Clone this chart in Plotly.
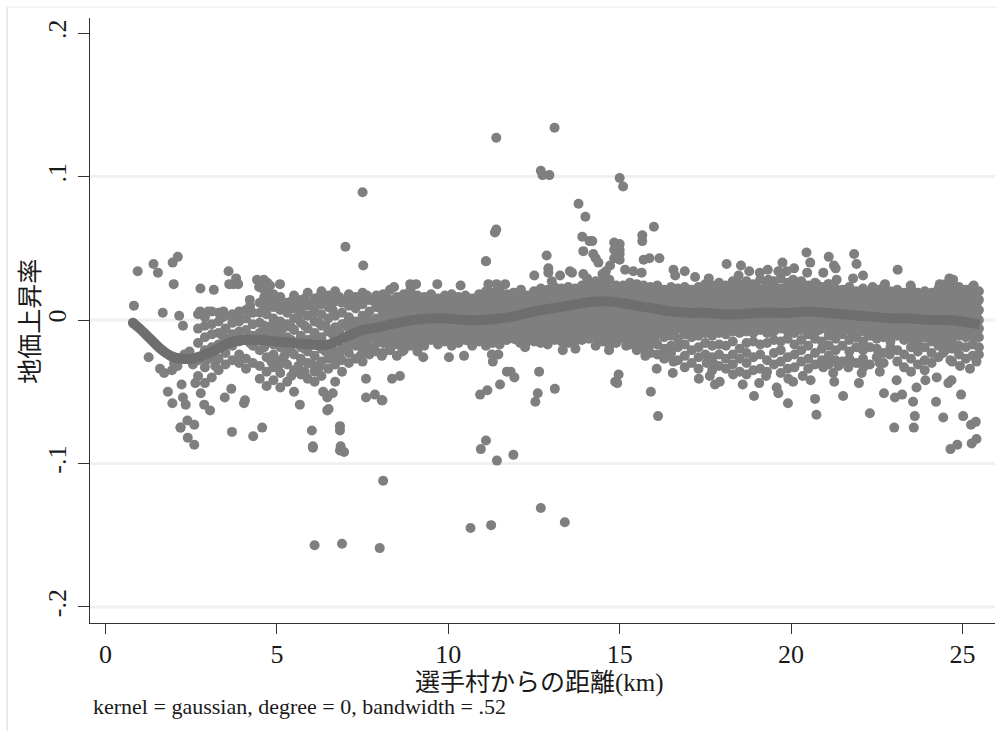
import plotly.graph_objects as go

# Smoothed curve
curve_x = [0.8,1.0,1.3,1.6,1.9,2.2,2.5,2.8,3.2,3.6,4.0,4.5,5.0,5.5,6.0,6.5,7.0,7.5,8.0,8.5,9.0,9.5,10.0,10.5,11.0,11.5,12.0,12.5,13.0,13.5,14.0,14.5,15.0,15.5,16.0,16.5,17.0,17.5,18.0,18.5,19.0,19.5,20.0,20.5,21.0,21.5,22.0,22.5,23.0,23.5,24.0,24.5,25.0,25.5]
curve_y = [-.002,-.006,-.013,-.020,-.025,-.027,-.027,-.025,-.021,-.016,-.014,-.014,-.015,-.016,-.017,-.017,-.012,-.007,-.005,-.002,0,.001,.001,0,0,.001,.003,.006,.008,.010,.012,.013,.012,.010,.008,.006,.005,.005,.004,.004,.005,.005,.005,.006,.005,.004,.003,.002,.001,.001,0,0,-.001,-.003]

# Columns of the crowded area: distance -> rates
early_cols = {
 2.7:[.004,-.006,-.016,-.028,-.039], 2.9:[.002,-.004,-.012,-.021,-.033,-.044], 3.1:[.006,-.003,-.010,-.019,-.026,-.040],
 3.3:[.005,-.001,-.009,-.017,-.027,-.035], 3.5:[.003,-.006,-.013,-.023,-.031], 3.7:[.004,-.002,-.010,-.018,-.028],
 3.9:[.006,-.001,-.008,-.015,-.024,-.030], 4.1:[.007,.001,-.007,-.013,-.027,-.034], 4.3:[.005,-.003,-.011,-.018,-.030],
 4.5:[.012,.005,-.002,-.009,-.021,-.032,-.041], 4.7:[.020,.014,.004,-.006,-.012,-.026,-.036,-.046], 4.9:[.018,.009,.001,-.008,-.017,-.024,-.033,-.042],
 5.1:[.016,.007,-.001,-.009,-.019,-.028,-.037,-.047], 5.3:[.012,.005,-.003,-.012,-.021,-.031,-.043], 5.5:[.017,.008,.001,-.007,-.016,-.024,-.035,-.050],
 5.7:[.014,.006,-.002,-.011,-.019,-.027,-.038], 5.9:[.019,.010,.003,-.006,-.014,-.022,-.030,-.041], 6.1:[.015,.008,-.001,-.009,-.017,-.025,-.036,-.043],
 6.3:[.020,.011,.004,-.004,-.012,-.020,-.029,-.039], 6.5:[.017,.009,.001,-.008,-.018,-.027,-.034], 6.7:[.020,.013,.003,-.005,-.014,-.022,-.031,-.043],
 6.9:[.012,.005,-.003,-.012,-.020,-.028,-.036], 7.1:[.018,.010,.002,-.006,-.015,-.023,-.030], 7.3:[.016,.008,-.001,-.009,-.018,-.027],
 7.5:[.019,.011,.003,-.005,-.013,-.021,-.029], 7.7:[.014,.006,-.002,-.010,-.019,-.024], 7.9:[.017,.009,.001,-.007,-.016,-.022],
}
mid_cols = {
 8.1:[.018,.012,.005,-.002,-.009,-.016,-.023], 8.3:[.021,.014,.007,.001,-.006,-.013,-.019], 8.5:[.016,.010,.003,-.004,-.011,-.017,-.025],
 8.7:[.018,.011,.005,-.002,-.008,-.015,-.021], 8.9:[.021,.015,.008,.001,-.005,-.012,-.018], 9.1:[.017,.011,.004,-.003,-.010,-.016,-.022],
 9.3:[.016,.009,.003,-.004,-.011,-.018], 9.5:[.018,.012,.006,-.001,-.007,-.014], 9.7:[.015,.009,.002,-.005,-.012,-.017],
 9.9:[.017,.011,.004,-.002,-.009,-.015], 10.1:[.018,.013,.006,.000,-.007,-.013,-.018], 10.3:[.016,.010,.003,-.004,-.010,-.016],
 10.5:[.017,.011,.005,-.002,-.008,-.014], 10.7:[.015,.008,.002,-.005,-.011,-.018], 10.9:[.018,.012,.006,-.001,-.008,-.015],
 11.1:[.020,.014,.007,.001,-.006,-.012,-.018], 11.3:[.019,.012,.005,-.002,-.009,-.016], 11.5:[.020,.014,.008,.001,-.005,-.012,-.017],
 11.7:[.018,.012,.006,-.001,-.008,-.014], 11.9:[.019,.013,.006,.000,-.007,-.013], 12.1:[.020,.015,.008,.002,-.005,-.011,-.016],
 12.3:[.017,.011,.005,-.002,-.009,-.015], 12.5:[.020,.014,.008,.002,-.004,-.011,-.015], 12.7:[.022,.016,.010,.003,-.003,-.010,-.016],
 12.9:[.021,.015,.009,.003,-.004,-.010,-.017], 13.1:[.023,.017,.011,.004,-.002,-.009,-.014], 13.3:[.022,.016,.010,.004,-.003,-.009,-.015],
 13.5:[.023,.017,.011,.005,-.002,-.008,-.016], 13.7:[.022,.016,.010,.003,-.004,-.010,-.015], 13.9:[.024,.018,.012,.005,-.001,-.008,-.014],
 14.1:[.025,.019,.013,.006,.000,-.007,-.013], 14.3:[.027,.020,.013,.007,.001,-.006,-.012,-.018], 14.5:[.026,.020,.014,.006,-.001,-.008,-.015],
 14.7:[.028,.021,.015,.008,.001,-.005,-.012,-.018], 14.9:[.024,.018,.012,.005,-.002,-.009,-.016], 15.1:[.024,.018,.012,.006,.000,-.007,-.013],
 15.3:[.026,.020,.013,.007,.001,-.006,-.012,-.017], 15.5:[.025,.019,.012,.005,-.002,-.009,-.015,-.021], 15.7:[.024,.018,.011,.004,-.003,-.010,-.016,-.020],
 15.9:[.023,.017,.010,.004,-.003,-.010,-.017,-.023],
}
far_cols = {
 16.1:[.024,.018,.011,.005,-.002,-.009,-.017,-.024], 16.3:[.021,.015,.009,.002,-.005,-.012,-.020,-.027], 16.5:[.023,.016,.010,.003,-.004,-.011,-.018,-.023],
 16.7:[.022,.015,.009,.002,-.004,-.013,-.019,-.028], 16.9:[.023,.017,.010,.004,-.003,-.010,-.017,-.025,-.033], 17.1:[.021,.015,.008,.002,-.005,-.012,-.021,-.030],
 17.3:[.023,.017,.010,.003,-.004,-.011,-.019,-.026,-.034], 17.5:[.025,.019,.012,.005,-.002,-.009,-.016,-.024], 17.7:[.024,.018,.011,.004,-.003,-.011,-.018,-.026,-.035],
 17.9:[.026,.019,.012,.005,-.002,-.009,-.017,-.032], 18.1:[.024,.018,.011,.004,-.003,-.010,-.018,-.027,-.034], 18.3:[.027,.020,.013,.006,-.001,-.008,-.015,-.024,-.031],
 18.5:[.025,.019,.012,.005,-.002,-.009,-.020,-.027,-.036], 18.7:[.027,.020,.013,.006,-.001,-.008,-.016,-.023,-.030,-.038], 18.9:[.025,.018,.012,.005,-.002,-.009,-.015,-.026,-.035],
 19.1:[.028,.021,.014,.007,.000,-.007,-.017,-.024,-.034], 19.3:[.025,.019,.012,.005,-.002,-.009,-.016,-.028,-.036], 19.5:[.027,.020,.013,.006,-.001,-.008,-.014,-.023,-.031],
 19.7:[.029,.022,.015,.008,.001,-.006,-.015,-.021,-.029,-.037], 19.9:[.026,.020,.013,.006,-.001,-.008,-.013,-.026,-.034], 20.1:[.025,.018,.012,.005,-.002,-.009,-.017,-.024,-.033],
 20.3:[.027,.021,.014,.007,.000,-.007,-.014,-.021,-.029], 20.5:[.024,.018,.011,.004,-.003,-.010,-.018,-.027,-.034], 20.7:[.026,.019,.012,.005,-.002,-.008,-.013,-.023,-.031],
 20.9:[.023,.017,.010,.003,-.004,-.015,-.020,-.028], 21.1:[.025,.018,.011,.004,-.002,-.011,-.018,-.025,-.031], 21.3:[.022,.016,.009,.002,-.005,-.013,-.021,-.028],
 21.5:[.021,.015,.008,.001,-.006,-.010,-.018,-.029], 21.7:[.023,.017,.010,.003,-.004,-.014,-.022,-.027], 21.9:[.020,.014,.007,.000,-.007,-.012,-.019,-.030],
 22.1:[.022,.016,.009,.002,-.005,-.015,-.021,-.027], 22.3:[.020,.014,.007,.000,-.007,-.011,-.019,-.031], 22.5:[.021,.015,.008,.001,-.006,-.013,-.020,-.026],
 22.7:[.023,.016,.009,.002,-.005,-.012,-.023,-.030], 22.9:[.020,.014,.007,.000,-.006,-.015,-.019], 23.1:[.021,.015,.008,.001,-.006,-.011,-.021,-.029],
 23.3:[.019,.013,.006,-.001,-.008,-.014,-.024,-.033], 23.5:[.022,.015,.008,.001,-.006,-.013,-.019,-.027,-.036], 23.7:[.019,.013,.006,-.001,-.008,-.016,-.022,-.031],
 23.9:[.020,.014,.007,.000,-.007,-.012,-.019,-.028,-.035], 24.1:[.019,.013,.006,-.001,-.008,-.015,-.023,-.030], 24.3:[.022,.015,.009,.002,-.005,-.012,-.018,-.026],
 24.5:[.025,.018,.011,.004,-.003,-.010,-.016,-.021], 24.7:[.027,.020,.013,.006,-.001,-.008,-.014,-.020,-.029], 24.9:[.023,.016,.009,.002,-.005,-.011,-.018,-.024],
 25.1:[.021,.015,.008,.001,-.006,-.012,-.019,-.027], 25.3:[.023,.017,.010,.003,-.004,-.011,-.017,-.025], 25.48:[.020,.014,.007,.000,-.006,-.012,-.019,-.024],
}
# Points between those columns, where the cloud is nearly solid
between_cols = {
 3.42:[.002,-.011], 3.84:[.003,-.012], 4.22:[.010,-.016], 4.63:[.016,.008,-.004,-.019], 4.84:[.013,-.004,-.013,-.029], 5.04:[.011,-.005,-.014,-.032], 5.22:[.009,-.005,-.016,-.025],
 5.42:[.013,-.005,-.014,-.022,-.039], 5.63:[.010,.002,-.015,-.032], 5.81:[.015,-.004,-.020,-.036], 6.04:[.012,.004,-.013,-.031], 6.23:[.016,-.002,-.018,-.033], 6.42:[.013,-.004,-.022],
 6.63:[.016,.007,-.010,-.026], 6.82:[.016,-.008,-.024], 7.04:[.014,-.002,-.019], 7.23:[.012,-.005,-.013], 7.44:[.015,-.001,-.017,-.025], 7.63:[.017,.002,-.014], 7.84:[.013,-.003,-.011],
 8.02:[.015,.008,.001,-.006,-.013], 8.21:[.015,.010,.004,-.003,-.010], 8.42:[.013,.006,.000,-.007,-.014], 8.63:[.015,.008,.001,-.005,-.012], 8.82:[.015,.011,.004,-.002,-.009],
 9.01:[.014,.008,.001,-.006,-.013], 9.22:[.013,.006,.000,-.007,-.014], 9.41:[.015,.009,.002,-.004,-.011], 9.62:[.012,.006,-.001,-.008,-.014], 9.83:[.014,.007,.001,-.006,-.012],
 10.02:[.015,.009,.003,-.004,-.010], 10.21:[.013,.006,.000,-.007,-.013], 10.42:[.014,.008,.001,-.005,-.011], 10.63:[.012,.005,-.002,-.008,-.015], 10.82:[.015,.009,.002,-.005,-.012],
 11.01:[.015,.010,.004,-.003,-.009], 11.22:[.015,.009,.002,-.005,-.012], 11.41:[.015,.011,.004,-.002,-.009], 11.62:[.015,.009,.003,-.004,-.011], 11.82:[.016,.009,.003,-.004,-.010],
 12.01:[.017,.011,.005,-.002,-.008,-.014], 12.22:[.014,.008,.001,-.005,-.012], 12.41:[.017,.011,.005,-.001,-.008,-.013], 12.62:[.019,.013,.006,.000,-.007,-.013], 12.81:[.018,.012,.006,.000,-.007,-.014],
 13.02:[.020,.014,.007,.001,-.006,-.012], 13.22:[.019,.013,.007,.000,-.006,-.012], 13.41:[.020,.014,.008,.001,-.005,-.012], 13.62:[.019,.013,.006,.000,-.007,-.013], 13.81:[.021,.015,.008,.002,-.005,-.011],
 14.02:[.022,.016,.009,.003,-.004,-.010], 14.21:[.023,.017,.010,.004,-.003,-.009], 14.42:[.023,.017,.010,.003,-.004,-.011], 14.61:[.024,.018,.011,.004,-.002,-.009], 14.82:[.021,.015,.008,.002,-.005,-.012],
 15.02:[.021,.015,.009,.003,-.004,-.010], 15.21:[.023,.016,.010,.004,-.003,-.009], 15.42:[.022,.016,.009,.002,-.005,-.012], 15.61:[.021,.014,.008,.001,-.006,-.013], 15.82:[.020,.014,.007,.000,-.006,-.013],
 16.02:[.021,.015,.008,.002,-.005,-.013], 16.22:[.018,.012,.006,-.001,-.008], 16.41:[.020,.013,.006,.000,-.007], 16.61:[.019,.012,.006,-.001,-.008], 16.82:[.020,.014,.007,.000,-.006],
 17.01:[.018,.012,.005,-.002,-.008], 17.22:[.020,.013,.007,.000,-.007], 17.41:[.020,.016,.009,.002,-.005], 17.62:[.020,.014,.007,.000,-.007], 17.81:[.020,.016,.009,.002,-.005],
 18.02:[.021,.014,.008,.001,-.006], 18.21:[.021,.017,.010,.003,-.004], 18.42:[.021,.015,.009,.002,-.005], 18.61:[.021,.017,.010,.003,-.004], 18.81:[.021,.015,.008,.001,-.006],
 19.01:[.022,.018,.011,.004,-.003], 19.22:[.022,.015,.009,.002,-.005], 19.42:[.021,.017,.010,.003,-.004], 19.61:[.022,.019,.011,.004,-.003], 19.82:[.022,.017,.010,.003,-.004],
 20.02:[.021,.015,.008,.002,-.005], 20.22:[.021,.017,.010,.003,-.004], 20.41:[.021,.015,.008,.001,-.006], 20.62:[.021,.016,.009,.002,-.005], 20.82:[.020,.014,.007,.000,-.007],
 21.02:[.020,.015,.008,.001,-.006], 21.22:[.019,.013,.006,-.001,-.008], 21.41:[.018,.012,.005,-.002,-.009], 21.62:[.020,.014,.007,.000,-.007], 21.81:[.017,.011,.004,-.003,-.010],
 22.02:[.019,.013,.006,-.001,-.008], 22.22:[.017,.011,.004,-.003,-.009], 22.42:[.018,.012,.005,-.002,-.009], 22.62:[.020,.013,.006,-.001,-.008], 22.82:[.017,.011,.004,-.003,-.010],
 23.02:[.018,.012,.005,-.002,-.009], 23.22:[.016,.010,.003,-.004,-.011], 23.42:[.019,.012,.005,-.002,-.009], 23.62:[.016,.010,.003,-.004,-.011], 23.82:[.017,.011,.004,-.003,-.010],
 24.02:[.016,.010,.003,-.004,-.011], 24.22:[.019,.012,.006,-.001,-.008], 24.42:[.022,.015,.008,.001,-.006], 24.62:[.024,.017,.010,.003,-.004], 24.82:[.020,.013,.006,-.001,-.008],
 25.02:[.018,.012,.005,-.002,-.009], 25.22:[.020,.014,.007,.000,-.007], 25.41:[.017,.011,.004,-.003,-.009],
}

# Loose points read one by one
near_x = [.83,.94,1.40,1.53,1.96,2.11,1.99,1.67,2.15,2.26,1.26,1.59,1.71,1.94,1.82,2.22,2.19,1.95,2.26,2.34,2.78,2.88,3.05,2.19,2.39,2.59,2.40,2.59,3.69,4.31,4.57,3.48,3.67,4.04,4.07,5.67,6.02,6.05,6.84,6.84,6.86,6.84,6.96,6.47,6.51,6.35,6.47,6.63,7.60,7.60,7.86,8.06,7.00,7.52,3.59,3.81,3.73,3.87,3.61,2.77,3.16,4.42,4.52,4.62,4.72,4.80,4.48,4.58,4.70,5.09,4.21,4.75,3.44,2.76,3.00,2.30,2.45,2.55,2.10,2.00,2.62,2.95,3.20]
near_y = [.010,.034,.039,.033,.040,.044,.025,.005,.003,-.004,-.026,-.034,-.037,-.035,-.050,-.045,-.075,-.058,-.054,-.059,-.051,-.059,-.063,-.075,-.070,-.073,-.082,-.087,-.078,-.081,-.075,-.054,-.048,-.058,-.056,-.059,-.077,-.089,-.074,-.077,-.088,-.091,-.092,-.063,-.062,-.050,-.054,-.051,-.041,-.054,-.052,-.056,.051,.038,.034,.029,.025,.025,.025,.022,.021,.028,.027,.028,.026,.024,.023,.022,.019,.025,.014,.009,.006,.006,.006,-.024,-.022,-.031,-.032,-.030,-.044,-.028,-.032]
mid_x = [8.08,8.36,8.59,9.27,10.02,10.46,10.93,11.14,11.51,11.10,10.95,11.42,11.90,11.27,11.46,11.30,11.71,11.82,11.93,12.24,12.61,12.65,13.11,12.61,12.54,13.34,13.71,14.69,14.97,14.87,14.93,15.75,16.08,15.91,16.12,16.55,16.32,16.57,15.55,15.19,8.66,8.30,8.06,8.42,8.89,9.06,9.68,10.36,9.49,11.17,11.41,11.66,12.12,12.51,12.87,11.10,12.92,12.92,13.02,13.26,13.55,13.61,13.94,14.38,14.23,13.94,13.91,14.12,14.84,14.84,14.84,14.72,15.66,15.66,15.87,16.16,16.57,16.62,15.16,15.40,15.64,11.36,11.40,14.50,14.60,14.05]
mid_y = [-.056,-.041,-.039,-.026,-.026,-.025,-.052,-.049,-.045,-.084,-.090,-.098,-.094,-.024,-.024,-.029,-.036,-.036,-.040,-.019,-.015,-.036,-.048,-.051,-.057,-.021,-.020,-.021,-.038,-.043,-.044,-.025,-.034,-.050,-.067,-.037,-.026,-.029,-.018,-.018,-.022,-.021,-.025,.023,.025,.025,.025,.024,.017,.025,.025,.025,.021,.031,.045,.041,.036,.033,.027,.031,.034,.033,.032,.040,.046,.048,.058,.055,.054,.049,.043,.038,.059,.055,.043,.043,.035,.031,.035,.034,.033,.061,.063,.032,.034,.029]
far_x = [18.12,18.54,18.78,19.09,19.32,18.47,19.75,19.63,19.87,20.09,20.45,20.56,20.47,20.94,21.10,21.25,21.30,21.84,21.91,21.81,22.10,22.38,23.11,22.74,23.49,24.62,24.73,25.33,24.34,19.34,20.06,20.19,20.74,21.33,21.09,17.31,17.78,17.92,17.63,17.54,17.73,18.31,18.59,18.92,19.07,19.27,19.58,19.63,19.91,20.06,19.92,20.34,20.57,20.70,20.74,21.26,21.52,21.98,22.06,22.30,22.71,23.03,23.24,23.08,23.66,23.56,23.61,23.01,23.58,24.23,24.44,23.92,24.25,24.59,24.68,24.96,25.02,25.25,25.39,24.65,24.85,25.27,25.41,25.22,25.41,24.93,24.65,24.44,22.88,22.59,22.59,21.23,20.94,21.67,21.38,22.11,17.90,17.60,16.90,17.20]
far_y = [.039,.038,.034,.033,.035,.031,.040,.034,.034,.036,.047,.040,.033,.033,.044,.038,.036,.046,.039,.029,.031,.023,.035,.025,.024,.029,.028,.024,.025,.028,.028,.026,.025,.028,.025,-.041,-.045,-.043,-.039,-.030,-.030,-.038,-.045,-.053,-.044,-.039,-.047,-.051,-.058,-.043,-.041,-.039,-.042,-.055,-.066,-.043,-.053,-.044,-.037,-.065,-.051,-.054,-.052,-.042,-.047,-.057,-.067,-.075,-.075,-.057,-.068,-.042,-.040,-.044,-.042,-.052,-.067,-.073,-.071,-.090,-.087,-.086,-.083,-.034,-.029,-.032,-.028,-.023,-.024,-.036,-.030,-.037,-.033,-.033,-.032,-.033,-.024,.029,.034,.030]
outlier_x = [11.40,13.10,12.70,12.75,12.95,15.00,15.10,7.50,13.80,14.00,16.00,15.00,15.00,14.20,14.30,15.00,15.00,15.70,11.10,8.00,6.10,6.90,8.10,10.65,11.25,12.70,13.40,6.05]
outlier_y = [.127,.134,.104,.101,.101,.099,.093,.089,.081,.072,.065,.053,.049,.055,.043,.046,.042,.042,.041,-.159,-.157,-.156,-.112,-.145,-.143,-.131,-.141,-.088]

x_ticks = [0,5,10,15,20,25]
y_ticks = [-.2,-.1,0,.1,.2]
y_labels = ['-.2','-.1','0','.1','.2']
grid_values = [-.2,-.1,0,.1]
x_title = '選手村からの距離(km)'
y_title = '地価上昇率'
note = 'kernel = gaussian, degree = 0, bandwidth = .52'

pts_x, pts_y = [], []
for cols in (early_cols, mid_cols, far_cols, between_cols):
    for k, vals in cols.items():
        pts_x += [k] * len(vals)
        pts_y += vals
pts_x += near_x + mid_x + far_x + outlier_x
pts_y += near_y + mid_y + far_y + outlier_y

SERIF = '"Liberation Serif","Noto Sans CJK JP",serif'
shapes = [dict(type='line', xref='paper', yref='y', x0=0, x1=1, y0=v, y1=v, layer='below', line=dict(color='#f0f0f0', width=3)) for v in grid_values]
shapes += [
    dict(type='line', xref='paper', yref='paper', x0=-.0916, x1=-.0916, y0=-.1785, y1=1.018, line=dict(color='#d6d6d6', width=1)),
    dict(type='line', xref='paper', yref='paper', x0=-.0916, x1=1.003, y0=1.018, y1=1.018, line=dict(color='#ececec', width=1)),
]
fig = go.Figure()
fig.add_trace(go.Scatter(x=pts_x, y=pts_y, mode='markers', marker=dict(color='#7f7f7f', size=10, line=dict(width=0)), hoverinfo='skip'))
fig.add_trace(go.Scatter(x=curve_x, y=curve_y, mode='lines', line=dict(color='#6e6e6e', width=10, shape='spline'), hoverinfo='skip'))
fig.add_trace(go.Scatter(x=curve_x[:1], y=curve_y[:1], mode='markers', marker=dict(color='#6e6e6e', size=10, line=dict(width=0)), hoverinfo='skip'))
fig.update_layout(
    width=998, height=731, margin=dict(l=90, r=3, t=18, b=108), showlegend=False, shapes=shapes,
    paper_bgcolor='white', plot_bgcolor='white', font=dict(family=SERIF, color='#1a1a1a', size=24),
    xaxis=dict(range=[-.452, 25.95], tickvals=x_ticks, ticks='outside', ticklen=10, tickcolor='#333333', showgrid=False,
               zeroline=False, showline=True, linecolor='#333333', linewidth=1, tickfont=dict(size=26), ticklabelstandoff=-2),
    yaxis=dict(range=[-.2112, .2105], tickvals=y_ticks, ticktext=y_labels, tickangle=-90, ticks='outside', ticklen=11, tickcolor='#333333',
               showgrid=False, zeroline=False, showline=True, linecolor='#333333', linewidth=1,
               tickfont=dict(size=26), ticklabelstandoff=2),
    annotations=[
        dict(text=note, xref='paper', yref='paper', x=.001, y=-.1385, xanchor='left', yanchor='middle', showarrow=False, font=dict(size=22)),
        dict(text=x_title, xref='paper', yref='paper', x=.4965, y=-.0995, xanchor='center', yanchor='middle', showarrow=False, font=dict(size=25)),
        dict(text=y_title, xref='paper', yref='paper', x=-.0652, y=.4997, xanchor='center', yanchor='middle', textangle=-90, showarrow=False, font=dict(size=25)),
    ],
)
fig.write_html('out.html', config=dict(displayModeBar=False), post_script="document.body.style.margin='0';")
